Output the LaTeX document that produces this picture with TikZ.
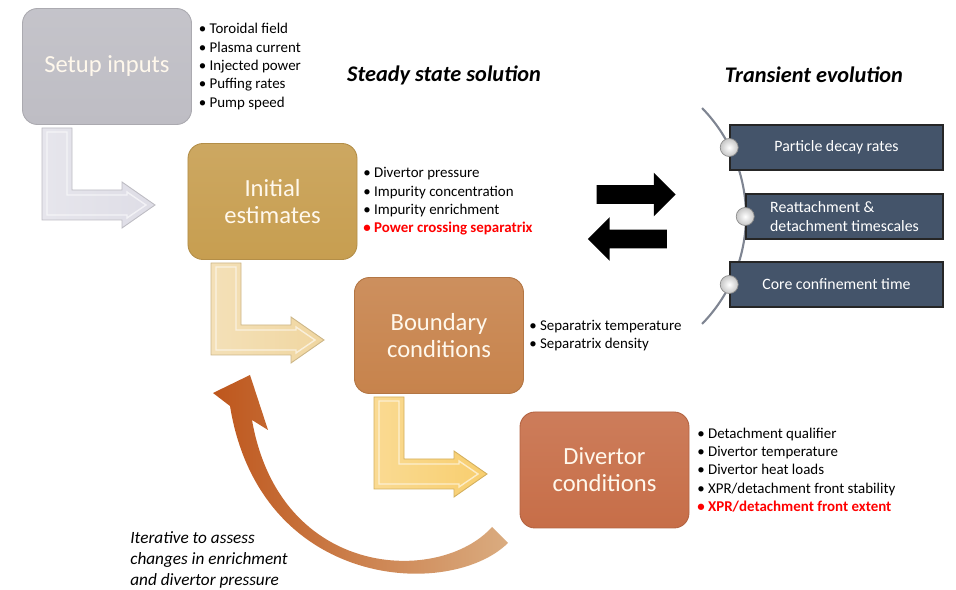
\documentclass[tikz,border=0pt]{standalone}
\usepackage{fontspec}
\setmainfont{Carlito}
\usetikzlibrary{positioning,shapes.arrows}
\definecolor{SetupClr}{RGB}{190,189,196}
\definecolor{InitClr}{RGB}{199,158,80}
\definecolor{BoundClr}{RGB}{199,131,76}
\definecolor{DivClr}{RGB}{199,110,72}
\definecolor{PanelClr}{RGB}{68,84,106}
\definecolor{ArcClr}{RGB}{127,133,146}
\definecolor{LoopDarkClr}{RGB}{190,86,28}
\definecolor{LoopLightClr}{RGB}{218,172,128}
\definecolor{TxtClr}{RGB}{255,248,236}
\definecolor{ElbowAClr}{RGB}{222,221,230}
\definecolor{ElbowBClr}{RGB}{240,214,160}
\definecolor{ElbowCClr}{RGB}{248,206,110}
\tikzset{
  stage/.style={rounded corners=3mm, minimum width=33.8mm, minimum height=23.2mm,
    align=center, text=TxtClr, font=\fontsize{14}{15.5}\selectfont,
    top color=#1!90!white, bottom color=#1, draw=#1!90!black, line width=0.5pt},
  bullets/.style={inner sep=0pt, align=left, font=\fontsize{8.5}{10.4}\selectfont},
  panel/.style={fill=PanelClr, draw=black!85, line width=0.9pt, text=white,
    minimum height=9mm, align=left, font=\fontsize{9}{10.6}\selectfont},
  knob/.style={circle, minimum size=3.6mm, inner sep=0pt, inner color=white, outer color=gray!45, draw=gray!90},
  heading/.style={font=\fontsize{12.7}{14}\selectfont\bfseries\itshape},
  swap/.style={single arrow, fill=black, minimum height=15.8mm, minimum width=8.6mm,
    single arrow head extend=2.5mm, single arrow tip angle=90, inner xsep=0pt, inner ysep=1.8mm}
}
\newcommand{\elbowarrow}[3]{%
  \draw[shift={(#1,#2)}, left color=#3!75!white, right color=#3, draw=#3!85!black, line width=0.5pt]
    (0,0) -- (30,0) -- (30,62) -- (80,62) -- (80,54) -- (113,77) -- (80,100) -- (80,92) -- (0,92) -- cycle;
  \draw[shift={(#1,#2)}, white, opacity=0.6, line width=0.8pt]
    (5,4) -- (25,4) -- (25,67) -- (85,67) -- (85,64) -- (104,77) -- (85,90) -- (85,87) -- (5,87) -- cycle;}
\newcommand{\bl}{\textbullet\ }

\begin{document}
\begin{tikzpicture}[x=0.2mm,y=-0.2mm]
\useasboundingbox (0,0) rectangle (956,590);

\elbowarrow{42}{128}{ElbowAClr}
\elbowarrow{211}{263}{ElbowBClr}
\elbowarrow{374}{397}{ElbowCClr}

\draw[draw=none, left color=LoopDarkClr, right color=LoopLightClr]
  (508,543) .. controls (450,600) and (260,590) .. (230,406) -- (213,393) -- (250,375)
  -- (268,430) -- (252,420) .. controls (280,580) and (440,585) .. (492,527) -- cycle;

\node[stage=SetupClr] (setup) at (107,66.5) {Setup inputs};
\node[stage=InitClr] (init) at (272.5,201.5) {Initial\\estimates};
\node[stage=BoundClr] (bound) at (439,335.5) {Boundary\\conditions};
\node[stage=DivClr] (divert) at (604.5,470) {Divertor\\conditions};

\node[bullets, right=1.3mm of setup] (setuplist) {\bl Toroidal field\\\bl Plasma current\\\bl Injected power\\\bl Puffing rates\\\bl Pump speed};
\node[bullets, right=1.1mm of init] (initlist) {\bl Divertor pressure\\\bl Impurity concentration\\\bl Impurity enrichment\\{\color{red}\bfseries\bl Power crossing separatrix}};
\node[bullets, right=1mm of bound] (boundlist) {\bl Separatrix temperature\\\bl Separatrix density};
\node[bullets, right=1.5mm of divert] (divlist) {\bl Detachment qualifier\\\bl Divertor temperature\\\bl Divertor heat loads\\\bl XPR/detachment front stability\\{\color{red}\bfseries\bl XPR/detachment front extent}};

\node[heading] (steady) at (444,75) {Steady state solution};
\node[heading] (transient) at (814,75) {Transient evolution};

\node[swap] (fwd) at (631.5,194.5) {};
\node[swap, shape border rotate=180] (back) at (632,239) {};

\draw[ArcClr, line width=1.2pt] (591.4,216) ++(44.3:30.92mm) arc[start angle=44.3, end angle=-44.3, radius=30.92mm];

\node[panel, minimum width=42.6mm] (decay) at (836.5,147.5) {Particle decay rates};
\node[panel, minimum width=39.4mm] (reatt) at (844.5,216.5) {Reattachment \&\\detachment timescales};
\node[panel, minimum width=42.6mm] (core) at (836.5,284.5) {Core confinement time};
\foreach \p in {decay,reatt,core}
  \node[knob] (k\p) at (\p.west) {};

\node[anchor=north west, inner sep=0pt, align=left, font=\fontsize{9.8}{12}\selectfont\itshape] (iter) at (130,531) {Iterative to assess\\changes in enrichment\\and divertor pressure};
\end{tikzpicture}
\end{document}
